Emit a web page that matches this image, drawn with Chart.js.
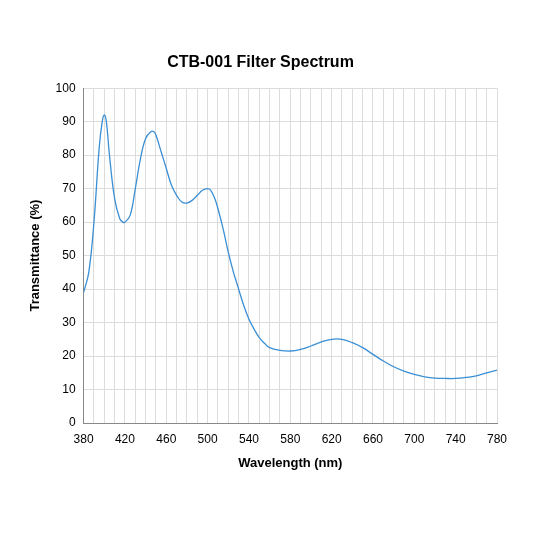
<!DOCTYPE html><html><head><script src="https://cdn.jsdelivr.net/npm/chart.js@4"></script>
<style>html,body{margin:0;background:#fff}#w{width:533px;height:533px}</style></head><body><div id="w"><canvas id="c"></canvas></div>
<script>
const wavelengths=[380,385,390,395,398,400,402,405,410,415,418,420,425,430,435,440,445,448,450,455,460,465,470,475,480,485,490,495,500,503,507,510,515,520,525,528,530,535,540,545,550,555,560,570,580,590,600,610,620,630,640,650,660,670,680,690,700,710,720,730,740,750,760,770,780];
const transmittance=[39,45,60,82,90,92,90,80,67,61,60,60,62,70,79,85,87,87,86,81,76,71,68,66,65.7,66.5,68,69.5,70,69.5,67,64,58,51,45,42,40,35,31,28,25.5,23.8,22.5,21.7,21.5,22,23,24.2,25,25,24,22.5,20.5,18.5,16.8,15.5,14.5,13.8,13.4,13.3,13.3,13.6,14.1,15,15.8];
const F='"Liberation Sans", Arial, sans-serif';
new Chart(document.getElementById('c'),{type:'line',
data:{datasets:[{data:wavelengths.map((x,i)=>({x,y:transmittance[i]})),borderColor:'#3a8fd5',borderWidth:1.3,pointRadius:0,tension:0.4,fill:false}]},
options:{responsive:true,maintainAspectRatio:false,animation:false,
layout:{padding:{left:24,right:36,top:53,bottom:58}},
plugins:{legend:{display:false},tooltip:{enabled:false},
title:{display:true,text:'CTB-001 Filter Spectrum',color:'#000',font:{family:F,size:16,weight:'bold'},padding:{bottom:16}}},
scales:{
x:{type:'linear',min:380,max:780,border:{color:'#888'},grid:{color:'#dcdcdc',tickLength:0},
ticks:{stepSize:10,autoSkip:false,maxRotation:0,padding:9,color:'#000',font:{family:F,size:12},callback:v=>(v-380)%40===0?v:''},
title:{display:true,text:'Wavelength (nm)',color:'#000',font:{family:F,size:13,weight:'bold'},padding:{top:0}}},
y:{min:0,max:100,border:{color:'#888'},grid:{color:'#dcdcdc',tickLength:0},
ticks:{stepSize:5,padding:8,color:'#000',font:{family:F,size:12}},
title:{display:true,text:'Transmittance (%)',color:'#000',font:{family:F,size:13,weight:'bold'}}}}}});
</script></body></html>
